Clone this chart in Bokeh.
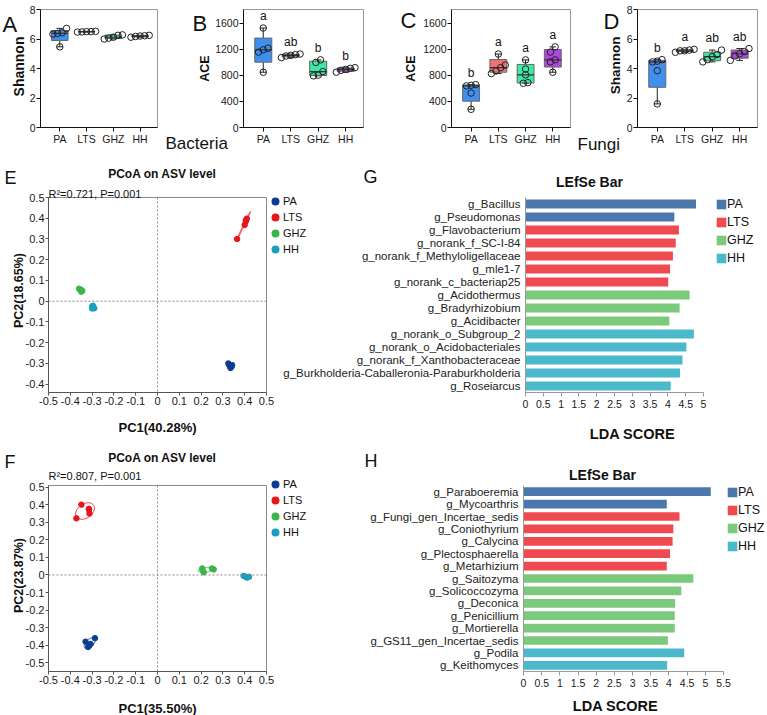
import numpy as np
from bokeh.plotting import figure
from bokeh.layouts import column, row
from bokeh.models import Range1d, FactorRange, FixedTicker, Label, Legend, LegendItem, Span
from bokeh.core.properties import value
from bokeh.embed import file_html
from bokeh.resources import INLINE

FONT = "Liberation Sans"
groups = ["PA", "LTS", "GHZ", "HH"]

# ---------------- alpha diversity (5 samples per group, order PA, LTS, GHZ, HH) -------------
bac_shannon = [[6.72, 6.42, 6.38, 6.33, 5.47], [6.52, 6.50, 6.50, 6.48, 6.47],
               [6.28, 6.25, 6.12, 6.06, 6.00], [6.25, 6.22, 6.20, 6.17, 6.12]]
bac_ace = [[1530, 1220, 1195, 1160, 850], [1130, 1120, 1110, 1100, 1075],
           [1040, 1000, 860, 805, 795], [920, 910, 895, 880, 850]]
fun_ace = [[660, 650, 640, 530, 280], [1130, 960, 920, 870, 830],
           [1040, 900, 810, 690, 680], [1240, 1160, 1040, 1010, 850]]
fun_shannon = [[4.60, 4.50, 4.45, 3.85, 1.60], [5.30, 5.25, 5.20, 5.20, 5.10],
               [5.25, 4.95, 4.80, 4.60, 4.45], [5.35, 5.15, 5.00, 4.85, 4.55]]
letters_bac_ace = ["a", "ab", "b", "b"]
letters_fun_ace = ["b", "a", "a", "a"]
letters_fun_shannon = ["b", "a", "ab", "ab"]
shannon_ticks = [0, 2, 4, 6, 8]
ace_ticks = [0, 400, 800, 1200, 1600]

# ---------------- PCoA coordinates (order PA, LTS, GHZ, HH) ----------------
bac_pc1 = [[0.325, 0.330, 0.340, 0.335, 0.342], [0.365, 0.400, 0.405, 0.410, 0.406],
           [-0.360, -0.355, -0.350, -0.345, -0.350], [-0.300, -0.295, -0.290, -0.296, -0.300]]
bac_pc2 = [[-0.300, -0.310, -0.315, -0.322, -0.308], [0.300, 0.368, 0.385, 0.398, 0.392],
           [0.060, 0.057, 0.054, 0.050, 0.046], [-0.025, -0.030, -0.034, -0.022, -0.035]]
fun_pc1 = [[-0.330, -0.287, -0.318, -0.307, -0.313], [-0.372, -0.349, -0.315, -0.312, -0.314],
           [0.205, 0.212, 0.250, 0.258, 0.207], [0.395, 0.405, 0.415, 0.420, 0.410]]
fun_pc2 = [[-0.380, -0.360, -0.410, -0.393, -0.402], [0.323, 0.401, 0.377, 0.350, 0.372],
           [0.037, 0.015, 0.037, 0.032, 0.027], [-0.005, -0.010, -0.012, -0.010, -0.015]]
bac_stats = "R\u00b2=0.721, P=0.001"
fun_stats = "R\u00b2=0.807, P=0.001"
bac_pc1_label = "PC1(40.28%)"
bac_pc2_label = "PC2(18.65%)"
fun_pc1_label = "PC1(35.50%)"
fun_pc2_label = "PC2(23.87%)"
pc_xticks = [-0.5, -0.4, -0.3, -0.2, -0.1, 0, 0.1, 0.2, 0.3, 0.4, 0.5]
bac_pc_yticks = [-0.4, -0.3, -0.2, -0.1, 0, 0.1, 0.2, 0.3, 0.4, 0.5]
fun_pc_yticks = [-0.5, -0.4, -0.3, -0.2, -0.1, 0, 0.1, 0.2, 0.3, 0.4, 0.5]

# ---------------- LEfSe ----------------
bac_taxa = ["g_Bacillus", "g_Pseudomonas", "g_Flavobacterium", "g_norank_f_SC-I-84",
            "g_norank_f_Methyloligellaceae", "g_mle1-7", "g_norank_c_bacteriap25",
            "g_Acidothermus", "g_Bradyrhizobium", "g_Acidibacter", "g_norank_o_Subgroup_2",
            "g_norank_o_Acidobacteriales", "g_norank_f_Xanthobacteraceae",
            "g_Burkholderia-Caballeronia-Paraburkholderia", "g_Roseiarcus"]
bac_lda = [4.79, 4.18, 4.31, 4.22, 4.14, 4.06, 4.01, 4.61, 4.33, 4.04, 4.73, 4.52, 4.41, 4.34, 4.08]
bac_group = ["PA", "PA", "LTS", "LTS", "LTS", "LTS", "LTS", "GHZ", "GHZ", "GHZ",
             "HH", "HH", "HH", "HH", "HH"]
fun_taxa = ["g_Paraboeremia", "g_Mycoarthris", "g_Fungi_gen_Incertae_sedis", "g_Coniothyrium",
            "g_Calycina", "g_Plectosphaerella", "g_Metarhizium", "g_Saitozyma", "g_Solicoccozyma",
            "g_Deconica", "g_Penicillium", "g_Mortierella", "g_GS11_gen_Incertae_sedis",
            "g_Podila", "g_Keithomyces"]
fun_lda = [5.15, 3.94, 4.29, 4.12, 4.10, 4.03, 3.94, 4.67, 4.34, 4.17, 4.16, 4.16, 3.97, 4.42, 3.95]
fun_group = ["PA", "PA", "LTS", "LTS", "LTS", "LTS", "LTS", "GHZ", "GHZ", "GHZ", "GHZ", "GHZ",
             "GHZ", "HH", "HH"]
bac_lda_ticks = [0, 0.5, 1, 1.5, 2, 2.5, 3, 3.5, 4, 4.5, 5]
fun_lda_ticks = [0, 0.5, 1, 1.5, 2, 2.5, 3, 3.5, 4, 4.5, 5, 5.5]

BOX_COL = ["#3f8fef", "#f07272", "#3ee8a6", "#b047dd"]
PC_COL = ["#0b3d91", "#e8161b", "#3cb54a", "#1b9fba"]
LEF_COL = ["#4a78ac", "#ef4a50", "#7bc97a", "#4bb8cb"]
TICK_TXT = "#1a1a1a"

W, H = 767, 715


def mkfig(w, h, l, r, t, b, xr, yr):
    p = figure(width=w, height=h, x_range=xr, y_range=yr, output_backend="svg",
               toolbar_location=None, tools="", title=None,
               min_border_left=l, min_border_right=r, min_border_top=t, min_border_bottom=b)
    p.xgrid.visible = False
    p.ygrid.visible = False
    return p


def style_axis(ax, size, tick_out, standoff, color="#222"):
    ax.major_label_text_font = FONT
    ax.major_label_text_font_size = size
    ax.major_label_text_color = TICK_TXT
    ax.axis_line_color = color
    ax.major_tick_line_color = color
    ax.major_tick_out = tick_out
    ax.major_tick_in = 0
    ax.minor_tick_line_color = None
    ax.major_label_standoff = standoff


def fmt(v):
    return "0" if v == 0 else ("%g" % v)


def swarm(v, thr, step=0.17):
    v = np.asarray(v, dtype=float)
    order = np.argsort(v)
    offs = np.zeros(len(v))
    clusters, cur = [], [order[0]]
    for a, b in zip(order[:-1], order[1:]):
        if v[b] - v[a] < thr:
            cur.append(b)
        else:
            clusters.append(cur)
            cur = [b]
    clusters.append(cur)
    for c in clusters:
        k = len(c)
        for j, idx in enumerate(c):
            offs[idx] = (j - (k - 1) / 2) * step
    return offs


def box_panel(p, data, letters, ymax, yticks):
    thr = 0.045 * ymax
    for i, vals in enumerate(data):
        xi = i + 1
        v = np.asarray(vals, dtype=float)
        q1, med, q3 = np.percentile(v, [25, 50, 75], method="weibull")
        lo, hi = v.min(), v.max()
        p.segment(x0=[xi], y0=[lo], x1=[xi], y1=[hi], line_color="#222", line_width=1)
        p.segment(x0=[xi - 0.12, xi - 0.12], y0=[lo, hi], x1=[xi + 0.12, xi + 0.12], y1=[lo, hi],
                  line_color="#222", line_width=1)
        p.vbar(x=[xi], bottom=[q1], top=[q3], width=0.62, fill_color=BOX_COL[i],
               line_color="#666", line_width=1)
        p.segment(x0=[xi - 0.31], y0=[med], x1=[xi + 0.31], y1=[med], line_color="#333", line_width=1.2)
        offs = swarm(v, thr)
        p.scatter(x=list(xi + offs), y=list(v), marker="circle", size=6.5, fill_alpha=0,
                  line_color="#222", line_width=1)
        if letters:
            p.text(x=[xi], y=[hi], text=[letters[i]], y_offset=-5, text_align="center",
                   text_baseline="bottom", text_font=value(FONT), text_font_size="12px",
                   text_color="#111")
    p.xaxis.ticker = FixedTicker(ticks=[1, 2, 3, 4])
    p.xaxis.major_label_overrides = {i + 1: g for i, g in enumerate(groups)}
    p.yaxis.ticker = FixedTicker(ticks=yticks)
    style_axis(p.xaxis[0], "10.5px", 4, 1, "#111")
    style_axis(p.yaxis[0], "10.5px", 4, 1, "#111")
    p.outline_line_color = "#9a9a9a"


def conf_ellipse(x, y, k=1.6, n=80):
    x = np.asarray(x); y = np.asarray(y)
    cov = np.cov(x, y)
    vals, vecs = np.linalg.eigh(cov)
    t = np.linspace(0, 2 * np.pi, n)
    circ = np.stack([np.cos(t), np.sin(t)])
    pts = vecs @ (np.sqrt(np.maximum(vals, 0))[:, None] * k * circ)
    return list(x.mean() + pts[0]), list(y.mean() + pts[1])


def pcoa_panel(p, xs, ys, yticks):
    p.add_layout(Span(location=0, dimension="height", line_color="#888", line_dash="2 2", line_width=1))
    p.add_layout(Span(location=0, dimension="width", line_color="#888", line_dash="2 2", line_width=1))
    for i in range(4):
        ex, ey = conf_ellipse(xs[i], ys[i])
        p.patch(ex, ey, fill_alpha=0, line_color=PC_COL[i], line_width=1, line_alpha=0.85)
        p.scatter(x=xs[i], y=ys[i], marker="circle", size=5.5, fill_color=PC_COL[i],
                  line_color=PC_COL[i])
    p.xaxis.ticker = FixedTicker(ticks=pc_xticks)
    p.xaxis.major_label_overrides = {v: fmt(v) for v in pc_xticks}
    p.yaxis.ticker = FixedTicker(ticks=yticks)
    p.yaxis.major_label_overrides = {v: fmt(v) for v in yticks}
    style_axis(p.xaxis[0], "11px", 3, 1, "#555")
    style_axis(p.yaxis[0], "11px", 3, 1, "#555")
    p.outline_line_color = "#8a8a8a"


def lefse_panel(p, taxa, lda, grp, ticks):
    for gi, g in enumerate(groups):
        idx = [i for i, gg in enumerate(grp) if gg == g]
        p.hbar(y=[taxa[i] for i in idx], right=[lda[i] for i in idx], left=0, height=0.7,
               fill_color=LEF_COL[gi], line_color=None)
    p.xaxis.ticker = FixedTicker(ticks=ticks)
    p.xaxis.major_label_overrides = {v: fmt(v) for v in ticks}
    style_axis(p.xaxis[0], "10.5px", 4, 3, "#999")
    style_axis(p.yaxis[0], "11.5px", 0, 5, "#999")
    p.yaxis.major_label_text_color = "#222"
    p.outline_line_color = None


# ---------------- Row 1: alpha diversity ----------------
pA = mkfig(160, 150, 40, 3, 9, 23, Range1d(0.28, 4.65), Range1d(0, 8))
pB = mkfig(220, 150, 83, 17, 9, 23, Range1d(0.28, 4.65), Range1d(0, 1815))
pC = mkfig(192, 150, 71, 2, 9, 23, Range1d(0.28, 4.65), Range1d(0, 1815))
pD = mkfig(195, 150, 65, 10, 9, 23, Range1d(0.28, 4.65), Range1d(0, 8))
box_panel(pA, bac_shannon, None, 8, shannon_ticks)
box_panel(pB, bac_ace, letters_bac_ace, 1815, ace_ticks)
box_panel(pC, fun_ace, letters_fun_ace, 1815, ace_ticks)
box_panel(pD, fun_shannon, letters_fun_shannon, 8, shannon_ticks)

# ---------------- Row 2: bacteria PCoA + LEfSe ----------------
pE = mkfig(276, 285, 48, 10, 47, 37, Range1d(-0.5, 0.5), Range1d(-0.44, 0.5))
pcoa_panel(pE, bac_pc1, bac_pc2, bac_pc_yticks)
pG = mkfig(491, 285, 249, 64, 44, 43, Range1d(0, 5), FactorRange(*reversed(bac_taxa)))
lefse_panel(pG, bac_taxa, bac_lda, bac_group, bac_lda_ticks)

# ---------------- Row 3: fungi PCoA + LEfSe ----------------
pF = mkfig(276, 280, 48, 10, 43, 33, Range1d(-0.5, 0.5), Range1d(-0.55, 0.51))
pcoa_panel(pF, fun_pc1, fun_pc2, fun_pc_yticks)
pH = mkfig(491, 280, 247, 44, 50, 44, Range1d(0, 5.5), FactorRange(*reversed(fun_taxa)))
lefse_panel(pH, fun_taxa, fun_lda, fun_group, fun_lda_ticks)

# ---------------- transparent overlay carrying panel texts and legends ----------------
ov = figure(width=W, height=H, x_range=Range1d(0, W), y_range=Range1d(H, 0),
            output_backend="svg", toolbar_location=None, tools="", title=None,
            x_axis_location=None, y_axis_location=None, min_border=0,
            background_fill_color=None, border_fill_color=None, outline_line_color=None)
ov.grid.visible = False
ov.margin = (-H, 0, 0, 0)


def lab(X, Y, text, size, bold=False, align="left", baseline="alphabetic", angle=0.0, color="#111"):
    ov.add_layout(Label(x=X, y=Y, text=text, text_font=FONT, text_font_size=size,
                        text_font_style="bold" if bold else "normal", text_color=color,
                        text_align=align, text_baseline=baseline, angle=angle))


V = np.pi / 2
lab(2, 24, "A", "22px")
lab(18, 66, "Shannon", "14px", True, "center", "middle", V)
lab(192, 23, "B", "22px")
lab(204, 68, "ACE", "12.5px", True, "center", "middle", V)
lab(165, 143, "Bacteria", "17px")
lab(400, 20, "C", "22px")
lab(410, 68, "ACE", "12.5px", True, "center", "middle", V)
lab(603, 21, "D", "22px")
lab(615, 65, "Shannon", "13.5px", True, "center", "middle", V)
lab(577, 144, "Fungi", "17px")

lab(4, 177, "E", "18px")
lab(162, 173, "PCoA on ASV level", "12px", True, "center")
lab(48, 193, bac_stats, "11px")
lab(18, 290, bac_pc2_label, "12.5px", True, "center", "middle", V)
lab(157, 427, bac_pc1_label, "13px", True, "center")
lab(363, 176, "G", "18px")
lab(589, 181, "LEfSe Bar", "14px", True, "center")
lab(632, 433, "LDA SCORE", "14.5px", True, "center")

lab(4, 461, "F", "18px")
lab(162, 457, "PCoA on ASV level", "12px", True, "center")
lab(48, 475, fun_stats, "11px")
lab(18, 575, fun_pc2_label, "12.5px", True, "center", "middle", V)
lab(157, 708, fun_pc1_label, "13px", True, "center")
lab(364, 460, "H", "18px")
lab(602, 474, "LEfSe Bar", "14px", True, "center")
lab(615, 705, "LDA SCORE", "14.5px", True, "center")

# legend swatches: renderers whose single point lies outside the overlay's visible range
sq = [ov.quad(left=[-60], right=[-50], top=[-60], bottom=[-50], fill_color=c, line_color=None)
      for c in LEF_COL]
dots = [ov.scatter(x=[-60], y=[-60], marker="circle", size=8, fill_color=c, line_color=c,
                   line_width=1.6) for c in PC_COL]


def add_legend(renderers, loc, glyph, spacing, standoff, size):
    items = [LegendItem(label=g, renderers=[r]) for g, r in zip(groups, renderers)]
    leg = Legend(items=items, location=loc, orientation="vertical", glyph_width=glyph,
                 glyph_height=glyph, spacing=spacing, padding=0, margin=0,
                 label_standoff=standoff, label_text_font=FONT, label_text_font_size=size,
                 label_text_color="#111", border_line_color=None, background_fill_alpha=0,
                 label_height=10, label_width=10)
    ov.add_layout(leg, "center")


add_legend(dots, (267, 458), 16, 0, 0, "11px")      # E legend
add_legend(dots, (267, 175), 16, 0, 0, "11px")      # F legend
add_legend(sq, (715, 450), 12, 4, 0, "12.5px")      # G legend
add_legend(sq, (726, 162), 12, 4, 0, "12.5px")      # H legend

layout = column(row(pA, pB, pC, pD), row(pE, pG), row(pF, pH), ov)
open("out.html", "w").write(file_html(layout, INLINE, "Diversity"))
